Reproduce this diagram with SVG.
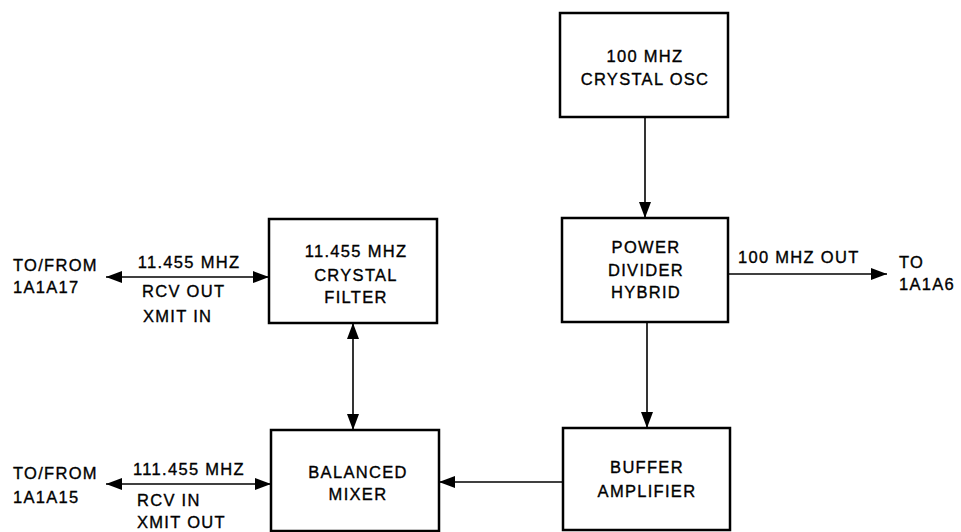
<svg xmlns="http://www.w3.org/2000/svg" width="961" height="532" viewBox="0 0 961 532">
<style>
.box{fill:#fff;stroke:#000;stroke-width:2.5}
.t{font-family:"Liberation Sans",Arial,sans-serif;font-size:16.5px;letter-spacing:1.3px;fill:#000;stroke:#000;stroke-width:0.35}
.c{text-anchor:middle}
.ln{stroke:#000;stroke-width:1.6;fill:none}
</style>
<defs>
<marker id="ah" markerUnits="userSpaceOnUse" markerWidth="18" markerHeight="13" refX="16" refY="6" orient="auto-start-reverse">
<path d="M0,0 L16,6 L0,12 z" fill="#000"/>
</marker>
</defs>
<rect width="961" height="532" fill="#fff"/>
<g id="connectors">
<line class="ln" x1="645" y1="117" x2="645" y2="218" marker-end="url(#ah)"/>
<line class="ln" x1="647" y1="322" x2="647" y2="428" marker-end="url(#ah)"/>
<line class="ln" x1="728" y1="274" x2="887" y2="274" marker-end="url(#ah)"/>
<line class="ln" x1="563" y1="482" x2="439" y2="482" marker-end="url(#ah)"/>
<line class="ln" x1="106" y1="277" x2="269" y2="277" marker-start="url(#ah)" marker-end="url(#ah)"/>
<line class="ln" x1="106" y1="484" x2="271" y2="484" marker-start="url(#ah)" marker-end="url(#ah)"/>
<line class="ln" x1="353" y1="323" x2="353" y2="430" marker-start="url(#ah)" marker-end="url(#ah)"/>
</g>
<g id="osc">
<rect class="box" x="560" y="13" width="168" height="104"/>
<text class="t c" x="645" y="62">100 MHZ</text>
<text class="t c" x="645" y="85">CRYSTAL OSC</text>
</g>
<g id="power">
<rect class="box" x="562" y="218" width="166" height="104"/>
<text class="t c" x="646" y="253">POWER</text>
<text class="t c" x="646" y="276">DIVIDER</text>
<text class="t c" x="646" y="298">HYBRID</text>
</g>
<g id="buffer">
<rect class="box" x="563" y="428" width="167" height="102"/>
<text class="t c" x="647" y="473">BUFFER</text>
<text class="t c" x="647" y="497">AMPLIFIER</text>
</g>
<g id="filter">
<rect class="box" x="269" y="219" width="168" height="104"/>
<text class="t c" x="356" y="257">11.455 MHZ</text>
<text class="t c" x="356" y="281">CRYSTAL</text>
<text class="t c" x="356" y="303">FILTER</text>
</g>
<g id="mixer">
<rect class="box" x="271" y="430" width="168" height="101"/>
<text class="t c" x="358" y="478">BALANCED</text>
<text class="t c" x="358" y="500">MIXER</text>
</g>
<g id="labels">
<text class="t" x="13" y="271">TO/FROM</text>
<text class="t" x="13" y="293">1A1A17</text>
<text class="t c" x="189" y="268">11.455 MHZ</text>
<text class="t" x="142" y="297">RCV OUT</text>
<text class="t" x="143" y="322">XMIT IN</text>
<text class="t" x="13" y="479">TO/FROM</text>
<text class="t" x="13" y="503">1A1A15</text>
<text class="t c" x="189" y="475">111.455 MHZ</text>
<text class="t" x="137" y="506">RCV IN</text>
<text class="t" x="137" y="528">XMIT OUT</text>
<text class="t" x="738" y="263">100 MHZ OUT</text>
<text class="t" x="899" y="268">TO</text>
<text class="t" x="899" y="290">1A1A6</text>
</g>
</svg>
